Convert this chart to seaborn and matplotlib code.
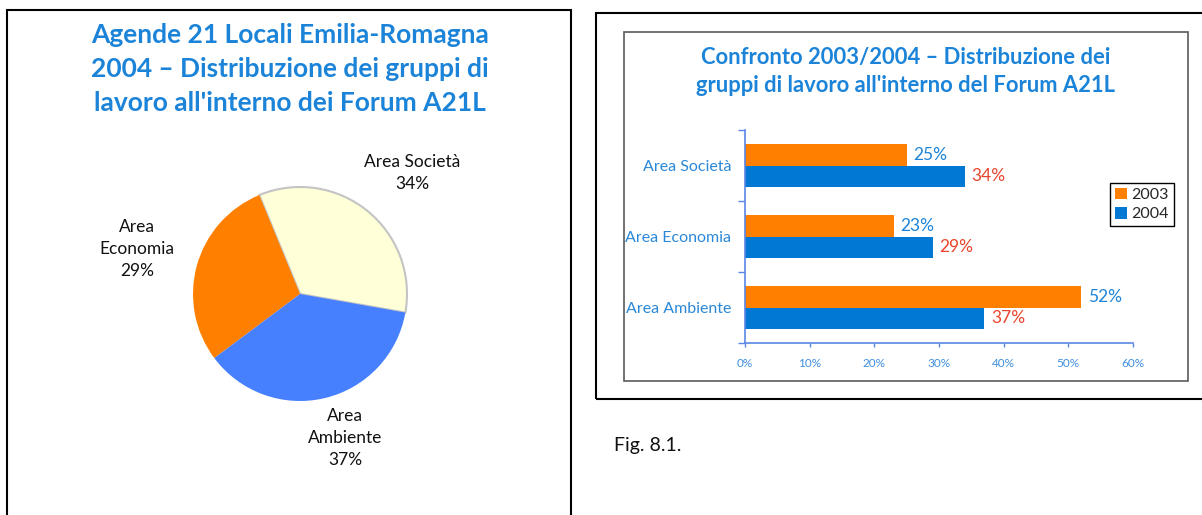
import matplotlib
matplotlib.use("Agg")
import matplotlib.pyplot as plt
from matplotlib.patches import Rectangle
import pandas as pd
import seaborn as sns

W, H = 1202, 515

# pie: 2004 distribution
pie_labels = ["Area Società\n34%", "Area\nEconomia\n29%", "Area\nAmbiente\n37%"]
pie_values = [34, 29, 37]
pie_colors = ["#FFFFD8", "#FF7F00", "#4680FF"]

# bars: 2003 vs 2004
areas = ["Area Società", "Area Economia", "Area Ambiente"]
years = ["2003", "2004"]
share_2003 = [25, 23, 52]
share_2004 = [34, 29, 37]
x_ticks = [0, 10, 20, 30, 40, 50, 60]

TITLE_BLUE = "#1C84D8"
AXIS_BLUE = "#5A86E6"


def px(x0, y0, w, h):
    # pixel box (top-left origin) -> figure fraction rect
    return [x0 / W, 1 - (y0 + h) / H, w / W, h / H]


def frame(fig, x0, y0, w, h, color="black", lw=1.5):
    fig.add_artist(Rectangle((x0 / W, 1 - (y0 + h) / H), w / W, h / H,
                             transform=fig.transFigure, fill=False,
                             ec=color, lw=lw))


def main():
    sns.set_theme(style="white")
    plt.rcParams["font.family"] = ["Lato", "DejaVu Sans"]

    fig = plt.figure(figsize=(W / 100, H / 100), dpi=100)

    # frames
    frame(fig, 7, 10, 564, 530)
    frame(fig, 596, 13, 640, 386)
    frame(fig, 624, 32, 564, 349, color="#5a5a5a", lw=1.2)

    # ---- left: pie ----
    fig.text(290 / W, 1 - 69 / H,
             "Agende 21 Locali Emilia-Romagna\n2004 – Distribuzione dei gruppi di\nlavoro all'interno dei Forum A21L",
             ha="center", va="center", ma="center", fontsize=19,
             fontweight="bold", color=TITLE_BLUE, linespacing=1.48)

    r = 107
    cx, cy = 300, 294
    ax_pie = fig.add_axes(px(cx - r, cy - r, 2 * r, 2 * r))
    wedges, _ = ax_pie.pie(pie_values, colors=pie_colors, startangle=-10,
                           counterclock=True,
                           wedgeprops=dict(linewidth=0))
    wedges[0].set_edgecolor("#C4C4C4")
    wedges[0].set_linewidth(1.5)
    ax_pie.set_xlim(-1, 1)
    ax_pie.set_ylim(-1, 1)
    # label centres in pixels (Excel-like placement)
    label_pos = [(412, 173), (137, 249), (345, 438)]
    for lab, (lx, ly) in zip(pie_labels, label_pos):
        fig.text(lx / W, 1 - ly / H, lab, ha="center", va="center",
                 ma="center", fontsize=12.5, color="#111111",
                 linespacing=1.45)

    # ---- right: bars ----
    fig.text(906 / W, 1 - 71.5 / H,
             "Confronto 2003/2004 – Distribuzione dei\ngruppi di lavoro all'interno del Forum A21L",
             ha="center", va="center", ma="center", fontsize=15.8,
             fontweight="bold", color=TITLE_BLUE, linespacing=1.4)

    df = pd.DataFrame({
        "area": areas * 2,
        "year": [years[0]] * 3 + [years[1]] * 3,
        "share": share_2003 + share_2004,
    })

    ax = fig.add_axes(px(745, 130, 388, 213))
    sns.barplot(data=df, y="area", x="share", hue="year", orient="h",
                palette={"2003": "#FF7F00", "2004": "#0078D4"},
                width=0.6, saturation=1, errorbar=None, linewidth=0, ax=ax)

    ax.set_xlim(0, 60)
    ax.set_ylim(2.5, -0.5)
    ax.set_xlabel("")
    ax.set_ylabel("")

    label_cols = [TITLE_BLUE, "#E8452C"]
    for cont, col in zip(ax.containers, label_cols):
        ax.bar_label(cont, labels=[f"{v:.0f}%" for v in cont.datavalues],
                     padding=5, color=col, fontsize=12.5)

    for s in ["top", "right"]:
        ax.spines[s].set_visible(False)
    for s in ["left", "bottom"]:
        ax.spines[s].set_color(AXIS_BLUE)
        ax.spines[s].set_linewidth(1.2)

    ax.set_xticks(x_ticks)
    ax.set_xticklabels([f"{v}%" for v in x_ticks])
    ax.tick_params(axis="x", colors=AXIS_BLUE, length=3, width=1,
                   labelsize=8.5, labelcolor="#3F8EDF", pad=8, bottom=True)
    ax.tick_params(axis="y", length=0, labelsize=11.5, labelcolor="#2A88D8",
                   pad=10, left=True)
    ax.set_yticks([-0.5, 0.5, 1.5, 2.5], minor=True)
    ax.tick_params(axis="y", which="minor", length=5, width=1,
                   color=AXIS_BLUE, left=True)

    handles = ax.get_legend().legend_handles
    ax.legend(handles, years, loc="upper left",
              bbox_to_anchor=(1110 / W, 1 - 183 / H),
              bbox_transform=fig.transFigure, frameon=True, fancybox=False,
              edgecolor="black", framealpha=1, fontsize=11.5,
              handlelength=0.75, handleheight=0.75, handletextpad=0.3,
              borderpad=0.3, labelspacing=0.3, borderaxespad=0)
    ax.get_legend().get_frame().set_linewidth(1)

    fig.text(614 / W, 1 - 445 / H, "Fig. 8.1.", ha="left", va="center",
             fontsize=14, color="#111111")

    fig.savefig("out.png", dpi=100)


if __name__ == "__main__":
    main()
